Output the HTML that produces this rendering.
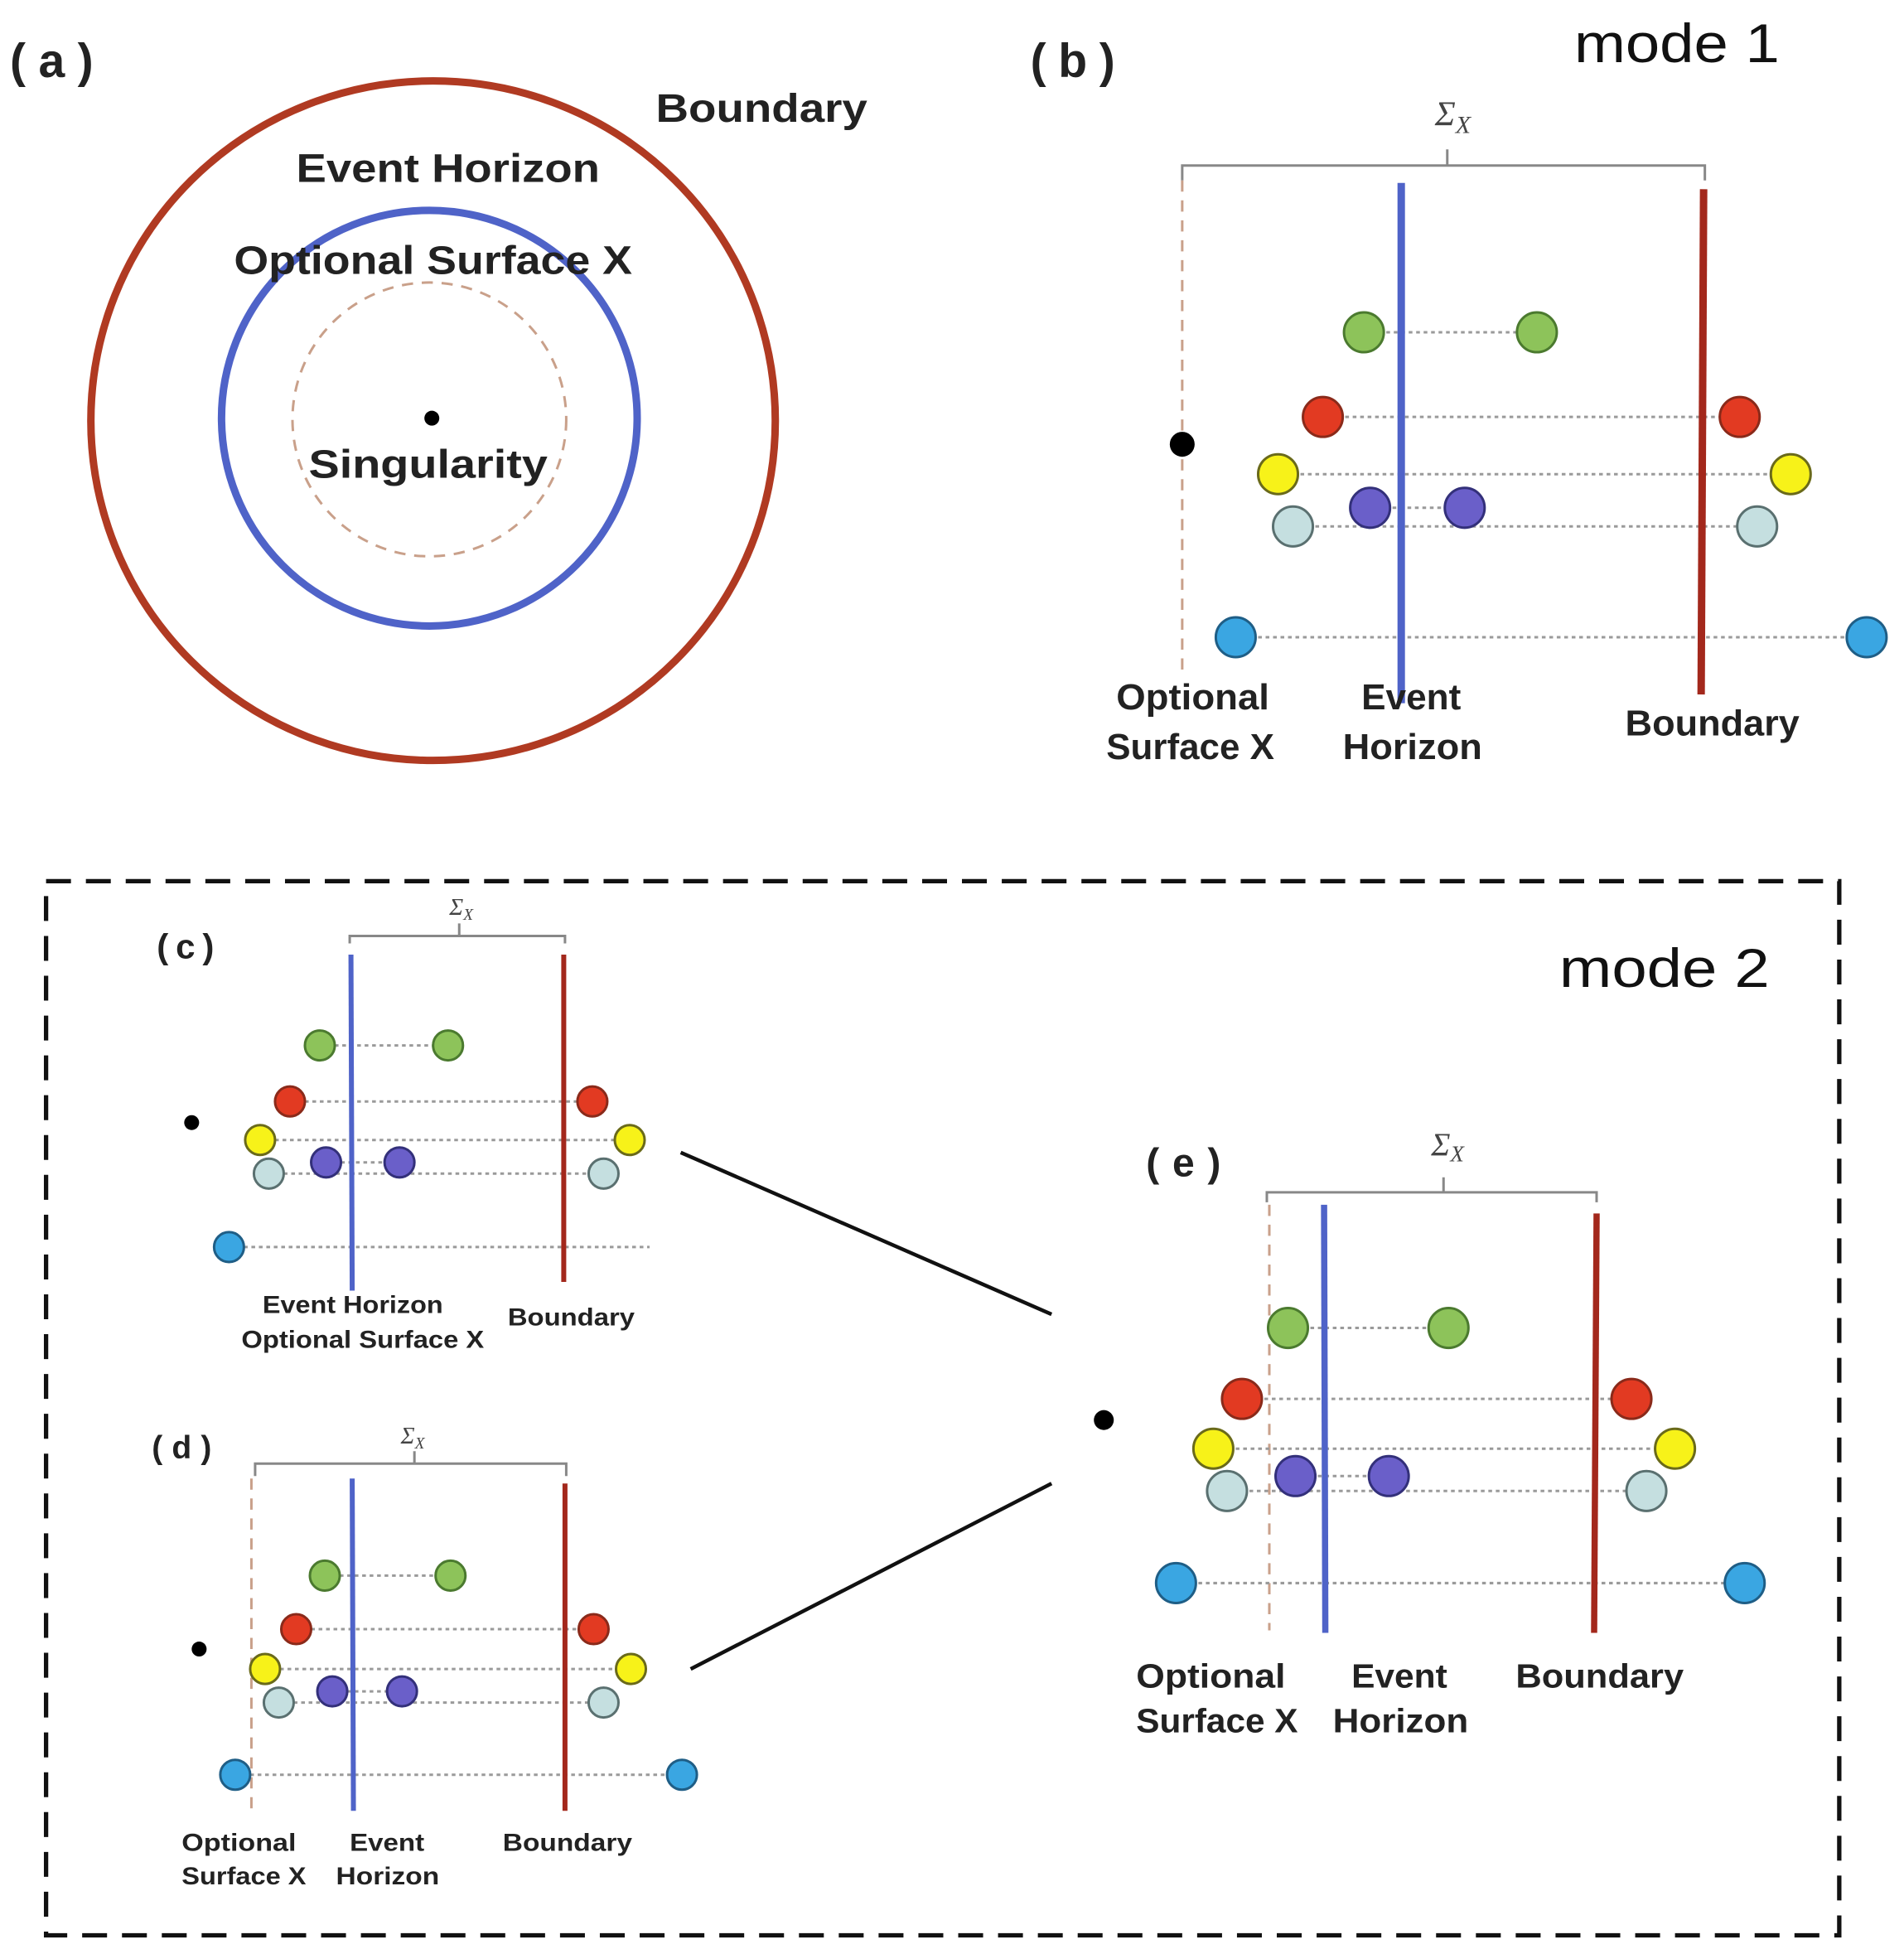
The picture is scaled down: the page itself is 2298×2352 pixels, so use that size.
<!DOCTYPE html>
<html><head><meta charset="utf-8"><style>
html,body{margin:0;padding:0;background:#fff;}
svg{display:block}
text{font-family:"Liberation Sans",sans-serif;font-weight:bold;fill:#222}
.s{font-family:"Liberation Serif",serif;font-style:italic;font-weight:normal;fill:#444}
.m{font-weight:normal;fill:#111}
.dl{stroke:#9a9a9a;stroke-dasharray:3 3;stroke-width:2}
.br{fill:none;stroke:#888;stroke-width:2}
.g{fill:#8dc35a;stroke:#4b7a2f;stroke-width:2}
.r{fill:#e23a22;stroke:#8a2a1a;stroke-width:2}
.y{fill:#f7f219;stroke:#6a6a1a;stroke-width:2}
.p{fill:#6a5fc9;stroke:#33307a;stroke-width:2}
.l{fill:#c5dfe0;stroke:#5a7070;stroke-width:2}
.b{fill:#3aa6e2;stroke:#1f5e86;stroke-width:2}
.tan{stroke:#c9a08a;stroke-dasharray:9 7;stroke-width:2;fill:none}
</style></head><body>
<svg width="2298" height="2352" viewBox="0 0 1530 1566" xmlns="http://www.w3.org/2000/svg">
<rect width="1530" height="1566" fill="#fff"/>
<!-- (a) -->
<ellipse cx="348" cy="338" rx="275" ry="273" fill="none" stroke="#b03a22" stroke-width="6"/>
<circle cx="345" cy="336" r="167" fill="none" stroke="#4f63c8" stroke-width="6"/>
<circle cx="345" cy="337" r="110" class="tan"/>
<circle cx="347" cy="336" r="6" fill="#000"/>
<text x="8" y="62" font-size="38" textLength="67" lengthAdjust="spacing">(a)</text>
<text x="527" y="98" font-size="32" textLength="170" lengthAdjust="spacingAndGlyphs">Boundary</text>
<text x="238" y="146" font-size="32" textLength="244" lengthAdjust="spacingAndGlyphs">Event Horizon</text>
<text x="188" y="220" font-size="32" textLength="320" lengthAdjust="spacingAndGlyphs">Optional Surface X</text>
<text x="248" y="384" font-size="32" textLength="192" lengthAdjust="spacingAndGlyphs">Singularity</text>
<!-- (b) -->
<text x="828" y="62" font-size="38" textLength="68" lengthAdjust="spacing">(b)</text>
<text x="1265" y="50" font-size="44" class="m" textLength="165" lengthAdjust="spacingAndGlyphs">mode 1</text>
<text x="1153" y="101" font-size="28" class="s">Σ<tspan font-size="20" dy="6">X</tspan></text>
<path class="br" d="M950 145 V133 H1370 V145 M1163 133 V120"/>
<line x1="950" y1="145" x2="950" y2="545" class="tan"/>
<line x1="1096" y1="267" x2="1235" y2="267" class="dl"/>
<line x1="1063" y1="335" x2="1398" y2="335" class="dl"/>
<line x1="1027" y1="381" x2="1439" y2="381" class="dl"/>
<line x1="1101" y1="408" x2="1177" y2="408" class="dl"/>
<line x1="1039" y1="423" x2="1412" y2="423" class="dl"/>
<line x1="993" y1="512" x2="1500" y2="512" class="dl"/>
<line x1="1126" y1="147" x2="1126" y2="565" stroke="#4f63c8" stroke-width="6"/>
<line x1="1369" y1="152" x2="1367" y2="558" stroke="#a3281c" stroke-width="6"/>
<circle cx="1096" cy="267" r="16" class="g"/><circle cx="1235" cy="267" r="16" class="g"/>
<circle cx="1063" cy="335" r="16" class="r"/><circle cx="1398" cy="335" r="16" class="r"/>
<circle cx="1027" cy="381" r="16" class="y"/><circle cx="1439" cy="381" r="16" class="y"/>
<circle cx="1101" cy="408" r="16" class="p"/><circle cx="1177" cy="408" r="16" class="p"/>
<circle cx="1039" cy="423" r="16" class="l"/><circle cx="1412" cy="423" r="16" class="l"/>
<circle cx="993" cy="512" r="16" class="b"/><circle cx="1500" cy="512" r="16" class="b"/>
<circle cx="950" cy="357" r="10" fill="#000"/>
<text x="897" y="570" font-size="29" textLength="123" lengthAdjust="spacingAndGlyphs">Optional</text>
<text x="889" y="610" font-size="29" textLength="135" lengthAdjust="spacingAndGlyphs">Surface X</text>
<text x="1094" y="570" font-size="29" textLength="80" lengthAdjust="spacingAndGlyphs">Event</text>
<text x="1079" y="610" font-size="29" textLength="112" lengthAdjust="spacingAndGlyphs">Horizon</text>
<text x="1306" y="591" font-size="29" textLength="140" lengthAdjust="spacingAndGlyphs">Boundary</text>
<!-- dashed box -->
<rect x="37" y="708" width="1441" height="847" fill="none" stroke="#111" stroke-width="3.5" stroke-dasharray="20 12"/>
<text x="1253" y="793" font-size="44" class="m" textLength="169" lengthAdjust="spacingAndGlyphs">mode 2</text>
<!-- (c) -->
<text x="126" y="770" font-size="28" textLength="46" lengthAdjust="spacing">(c)</text>
<text x="361" y="735" font-size="19" class="s">Σ<tspan font-size="13" dy="4">X</tspan></text>
<path class="br" d="M281 758 V752 H454 V758 M369 752 V742"/>
<line x1="257" y1="840" x2="360" y2="840" class="dl"/>
<line x1="233" y1="885" x2="476" y2="885" class="dl"/>
<line x1="209" y1="916" x2="506" y2="916" class="dl"/>
<line x1="262" y1="934" x2="321" y2="934" class="dl"/>
<line x1="216" y1="943" x2="485" y2="943" class="dl"/>
<line x1="184" y1="1002" x2="522" y2="1002" class="dl"/>
<line x1="282" y1="767" x2="283" y2="1037" stroke="#4f63c8" stroke-width="4"/>
<line x1="453" y1="767" x2="453" y2="1030" stroke="#a3281c" stroke-width="4"/>
<circle cx="257" cy="840" r="12" class="g"/><circle cx="360" cy="840" r="12" class="g"/>
<circle cx="233" cy="885" r="12" class="r"/><circle cx="476" cy="885" r="12" class="r"/>
<circle cx="209" cy="916" r="12" class="y"/><circle cx="506" cy="916" r="12" class="y"/>
<circle cx="262" cy="934" r="12" class="p"/><circle cx="321" cy="934" r="12" class="p"/>
<circle cx="216" cy="943" r="12" class="l"/><circle cx="485" cy="943" r="12" class="l"/>
<circle cx="184" cy="1002" r="12" class="b"/>
<circle cx="154" cy="902" r="6" fill="#000"/>
<text x="211" y="1055" font-size="20" textLength="145" lengthAdjust="spacingAndGlyphs">Event Horizon</text>
<text x="194" y="1083" font-size="20" textLength="195" lengthAdjust="spacingAndGlyphs">Optional Surface X</text>
<text x="408" y="1065" font-size="20" textLength="102" lengthAdjust="spacingAndGlyphs">Boundary</text>
<!-- (d) -->
<text x="122" y="1172" font-size="26" textLength="48" lengthAdjust="spacing">(d)</text>
<text x="322" y="1160" font-size="19" class="s">Σ<tspan font-size="13" dy="4">X</tspan></text>
<path class="br" d="M205 1186 V1176 H455 V1186 M333 1176 V1166"/>
<line x1="202" y1="1188" x2="202" y2="1460" class="tan"/>
<line x1="261" y1="1266" x2="362" y2="1266" class="dl"/>
<line x1="238" y1="1309" x2="477" y2="1309" class="dl"/>
<line x1="213" y1="1341" x2="507" y2="1341" class="dl"/>
<line x1="267" y1="1359" x2="323" y2="1359" class="dl"/>
<line x1="224" y1="1368" x2="485" y2="1368" class="dl"/>
<line x1="189" y1="1426" x2="548" y2="1426" class="dl"/>
<line x1="283" y1="1188" x2="284" y2="1455" stroke="#4f63c8" stroke-width="4"/>
<line x1="454" y1="1192" x2="454" y2="1455" stroke="#a3281c" stroke-width="4"/>
<circle cx="261" cy="1266" r="12" class="g"/><circle cx="362" cy="1266" r="12" class="g"/>
<circle cx="238" cy="1309" r="12" class="r"/><circle cx="477" cy="1309" r="12" class="r"/>
<circle cx="213" cy="1341" r="12" class="y"/><circle cx="507" cy="1341" r="12" class="y"/>
<circle cx="267" cy="1359" r="12" class="p"/><circle cx="323" cy="1359" r="12" class="p"/>
<circle cx="224" cy="1368" r="12" class="l"/><circle cx="485" cy="1368" r="12" class="l"/>
<circle cx="189" cy="1426" r="12" class="b"/><circle cx="548" cy="1426" r="12" class="b"/>
<circle cx="160" cy="1325" r="6" fill="#000"/>
<text x="146" y="1487" font-size="20" textLength="92" lengthAdjust="spacingAndGlyphs">Optional</text>
<text x="146" y="1514" font-size="20" textLength="100" lengthAdjust="spacingAndGlyphs">Surface X</text>
<text x="281" y="1487" font-size="20" textLength="60" lengthAdjust="spacingAndGlyphs">Event</text>
<text x="270" y="1514" font-size="20" textLength="83" lengthAdjust="spacingAndGlyphs">Horizon</text>
<text x="404" y="1487" font-size="20" textLength="104" lengthAdjust="spacingAndGlyphs">Boundary</text>
<!-- connectors -->
<line x1="547" y1="926" x2="845" y2="1056" stroke="#111" stroke-width="3"/>
<line x1="555" y1="1341" x2="845" y2="1192" stroke="#111" stroke-width="3"/>
<!-- (e) -->
<text x="921" y="945" font-size="32" textLength="60" lengthAdjust="spacing">(e)</text>
<text x="1150" y="928" font-size="26" class="s">Σ<tspan font-size="18" dy="5">X</tspan></text>
<path class="br" d="M1018 966 V958 H1283 V966 M1160 958 V946"/>
<line x1="1020" y1="968" x2="1020" y2="1310" class="tan"/>
<line x1="1035" y1="1067" x2="1164" y2="1067" class="dl"/>
<line x1="998" y1="1124" x2="1311" y2="1124" class="dl"/>
<line x1="975" y1="1164" x2="1346" y2="1164" class="dl"/>
<line x1="1041" y1="1186" x2="1116" y2="1186" class="dl"/>
<line x1="986" y1="1198" x2="1323" y2="1198" class="dl"/>
<line x1="945" y1="1272" x2="1402" y2="1272" class="dl"/>
<line x1="1064" y1="968" x2="1065" y2="1312" stroke="#4f63c8" stroke-width="5"/>
<line x1="1283" y1="975" x2="1281" y2="1312" stroke="#a3281c" stroke-width="5"/>
<circle cx="1035" cy="1067" r="16" class="g"/><circle cx="1164" cy="1067" r="16" class="g"/>
<circle cx="998" cy="1124" r="16" class="r"/><circle cx="1311" cy="1124" r="16" class="r"/>
<circle cx="975" cy="1164" r="16" class="y"/><circle cx="1346" cy="1164" r="16" class="y"/>
<circle cx="1041" cy="1186" r="16" class="p"/><circle cx="1116" cy="1186" r="16" class="p"/>
<circle cx="986" cy="1198" r="16" class="l"/><circle cx="1323" cy="1198" r="16" class="l"/>
<circle cx="945" cy="1272" r="16" class="b"/><circle cx="1402" cy="1272" r="16" class="b"/>
<circle cx="887" cy="1141" r="8" fill="#000"/>
<text x="913" y="1356" font-size="27" textLength="120" lengthAdjust="spacingAndGlyphs">Optional</text>
<text x="913" y="1392" font-size="27" textLength="130" lengthAdjust="spacingAndGlyphs">Surface X</text>
<text x="1086" y="1356" font-size="27" textLength="77" lengthAdjust="spacingAndGlyphs">Event</text>
<text x="1071" y="1392" font-size="27" textLength="109" lengthAdjust="spacingAndGlyphs">Horizon</text>
<text x="1218" y="1356" font-size="27" textLength="135" lengthAdjust="spacingAndGlyphs">Boundary</text>
</svg>
</body></html>
